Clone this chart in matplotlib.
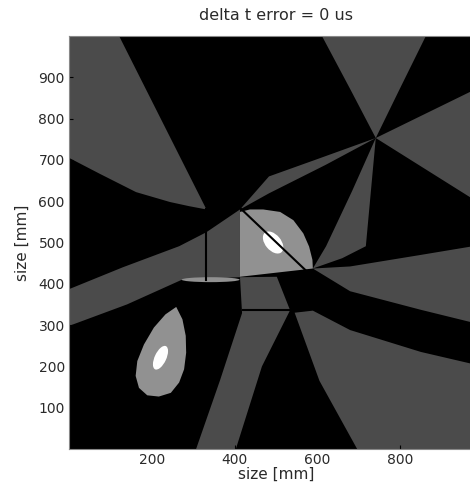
import numpy as np
import matplotlib.pyplot as plt
from matplotlib.patches import Ellipse

plt.rcParams["font.family"] = ["DejaVu Sans"]

# gray levels used in the map
DARK = "#4b4b4b"
LIGHT = "#919191"

# dark gray regions (x, y in mm)
dark_regions = [
    # upper left wedge
    [(0, 1000), (121, 1000), (332, 580), (290, 588), (244, 598), (162, 622),
     (75, 666), (0, 705)],
    # band from the top, pinching at the crossing
    [(611, 1000), (862, 1000), (798, 870), (741, 753), (680, 870)],
    # band to the right edge
    [(741, 753), (1000, 880), (1000, 590)],
    # arm from the crossing towards the upper blob
    [(741, 753), (600, 702), (483, 660), (413, 580), (483, 619), (620, 688)],
    # arm from the crossing down to the right of the upper blob
    [(741, 753), (717, 491), (660, 462), (589, 437), (621, 491), (684, 625)],
    # band from the left edge into the middle
    [(0, 387), (0, 298), (140, 350), (273, 410), (413, 416), (413, 580),
     (332, 525), (266, 491), (130, 440)],
    # band from the bottom up to the upper blob
    [(307, 0), (365, 167), (418, 329), (413, 416), (502, 417), (534, 336),
     (466, 200), (403, 0)],
    # band from the middle to the right edge
    [(589, 437), (679, 442), (850, 470), (1000, 495), (1000, 300),
     (850, 337), (679, 382)],
    # lower right region
    [(696, 0), (1000, 0), (1000, 200), (850, 235), (679, 288), (589, 335),
     (545, 330), (605, 165)],
]

# light gray blobs
light_regions = [
    [(259, 344), (274, 314), (282, 274), (283, 233), (278, 193), (266, 161),
     (246, 136), (217, 127), (189, 130), (169, 148), (161, 177), (165, 213),
     (181, 253), (205, 294), (233, 326)],
    [(413, 574), (437, 580), (469, 580), (510, 574), (542, 554), (566, 522),
     (580, 490), (588, 458), (589, 437), (413, 417)],
]

# white spots: centre x, centre y, width, height, angle
spot_x = [221, 493]
spot_y = [221, 500]
spot_w = [62, 62]
spot_h = [28, 38]
spot_a = [65, -50]

# thin light sliver left of the middle
sliver_x, sliver_y, sliver_w, sliver_h = 342, 410, 140, 12

# black lines between sensor positions
line_x = [[332, 332], [420, 565], [415, 585]]
line_y = [[409, 580], [337, 337], [582, 420]]


def main():
    fig = plt.figure(figsize=(4.70, 4.93), dpi=100)
    ax = fig.add_axes([69 / 470, 44 / 493, 414 / 470, 413 / 493])
    ax.set_facecolor("black")

    for poly in dark_regions:
        xs, ys = zip(*poly)
        ax.fill(xs, ys, color=DARK, lw=0)
    for poly in light_regions:
        xs, ys = zip(*poly)
        ax.fill(xs, ys, color=LIGHT, lw=0)
    ax.add_patch(Ellipse((sliver_x, sliver_y), sliver_w, sliver_h,
                         color=LIGHT, lw=0))

    for x, y, w, h, a in zip(spot_x, spot_y, spot_w, spot_h, spot_a):
        ax.add_patch(Ellipse((x, y), w, h, angle=a, color="white", lw=0))

    for xs, ys in zip(line_x, line_y):
        ax.plot(xs, ys, color="black", lw=1.5)

    ax.set_xlim(0, 1000)
    ax.set_ylim(0, 1000)
    ax.set_xticks([200, 400, 600, 800])
    ax.set_yticks(range(100, 1000, 100))
    ax.tick_params(direction="in", length=3, labelsize=10, colors="black", pad=3)
    for lab in ax.get_xticklabels() + ax.get_yticklabels():
        lab.set_color("#2a2a2a")
    ax.set_xlabel("size [mm]", fontsize=11, labelpad=0, color="#2a2a2a")
    ax.set_ylabel("size [mm]", fontsize=11, labelpad=6, color="#2a2a2a")
    fig.text(276 / 470, 1 - 16 / 493, "delta t error = 0 us", ha="center",
             va="center", fontsize=11.5, color="#2a2a2a")
    for s in ax.spines.values():
        s.set_color("#888888")
        s.set_linewidth(0.8)

    fig.savefig("out.png", dpi=100)


if __name__ == "__main__":
    main()
